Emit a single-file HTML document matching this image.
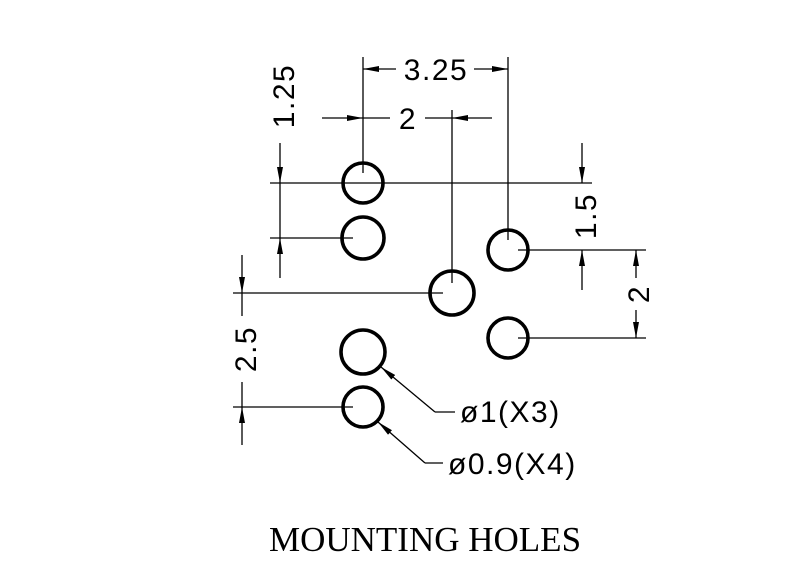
<!DOCTYPE html>
<html><head><style>body{margin:0;background:#fff}svg{display:block}</style></head>
<body>
<svg width="800" height="576" viewBox="0 0 800 576" xmlns="http://www.w3.org/2000/svg">
<defs>
<marker id="a" markerWidth="16" markerHeight="6" refX="16" refY="3" orient="auto" markerUnits="userSpaceOnUse"><path d="M0,0 L16,3 L0,6 z" fill="#000"/></marker>
</defs>
<g fill="none" stroke="#000" stroke-width="1.3">
<line x1="363" y1="57" x2="363" y2="173"/>
<line x1="508" y1="57" x2="508" y2="240"/>
<line x1="452" y1="110" x2="452" y2="283"/>
<line x1="270" y1="183" x2="592" y2="183"/>
<line x1="270" y1="238" x2="353" y2="238"/>
<line x1="518" y1="250" x2="646" y2="250"/>
<line x1="518" y1="338" x2="646" y2="338"/>
<line x1="233" y1="293" x2="443" y2="293"/>
<line x1="233" y1="407" x2="353" y2="407"/>
<line x1="396" y1="69" x2="363" y2="69" marker-end="url(#a)"/>
<line x1="474" y1="69" x2="508" y2="69" marker-end="url(#a)"/>
<line x1="322" y1="118" x2="363" y2="118" marker-end="url(#a)"/>
<line x1="363" y1="118" x2="390" y2="118"/>
<line x1="425" y1="118" x2="452" y2="118"/>
<line x1="492" y1="118" x2="452" y2="118" marker-end="url(#a)"/>
<line x1="280" y1="143" x2="280" y2="183" marker-end="url(#a)"/>
<line x1="280" y1="183" x2="280" y2="238"/>
<line x1="280" y1="278" x2="280" y2="238" marker-end="url(#a)"/>
<line x1="582" y1="143" x2="582" y2="183" marker-end="url(#a)"/>
<line x1="582" y1="290" x2="582" y2="250" marker-end="url(#a)"/>
<line x1="636" y1="278" x2="636" y2="250" marker-end="url(#a)"/>
<line x1="636" y1="310" x2="636" y2="338" marker-end="url(#a)"/>
<line x1="242" y1="255" x2="242" y2="293" marker-end="url(#a)"/>
<line x1="242" y1="293" x2="242" y2="316"/>
<line x1="242" y1="382" x2="242" y2="407"/>
<line x1="242" y1="445" x2="242" y2="407" marker-end="url(#a)"/>
<line x1="455" y1="412" x2="435" y2="412"/>
<line x1="435" y1="412" x2="381" y2="367" marker-end="url(#a)"/>
<line x1="443" y1="463" x2="425" y2="463"/>
<line x1="425" y1="463" x2="378" y2="422" marker-end="url(#a)"/>
</g>
<g fill="none" stroke="#000" stroke-width="3.6">
<circle cx="363" cy="183" r="20"/>
<circle cx="363" cy="238" r="21"/>
<circle cx="508" cy="250" r="20"/>
<circle cx="452" cy="293" r="22"/>
<circle cx="508" cy="338" r="20"/>
<circle cx="363" cy="352" r="22"/>
<circle cx="363" cy="407" r="20"/>
</g>
<g font-family="Liberation Sans, sans-serif" font-size="30" fill="#000" letter-spacing="1.5">
<text x="436" y="80" text-anchor="middle">3.25</text>
<text x="408" y="129" text-anchor="middle">2</text>
<text transform="translate(294,96) rotate(-90)" text-anchor="middle">1.25</text>
<text transform="translate(596,216) rotate(-90)" text-anchor="middle">1.5</text>
<text transform="translate(649,294) rotate(-90)" text-anchor="middle">2</text>
<text transform="translate(256,349) rotate(-90)" text-anchor="middle">2.5</text>
<text x="460" y="422">ø1(X3)</text>
<text x="448" y="474">ø0.9(X4)</text>
</g>
<text x="425" y="551" text-anchor="middle" font-family="Liberation Serif, serif" font-size="35" fill="#000">MOUNTING HOLES</text>
</svg>
</body></html>
